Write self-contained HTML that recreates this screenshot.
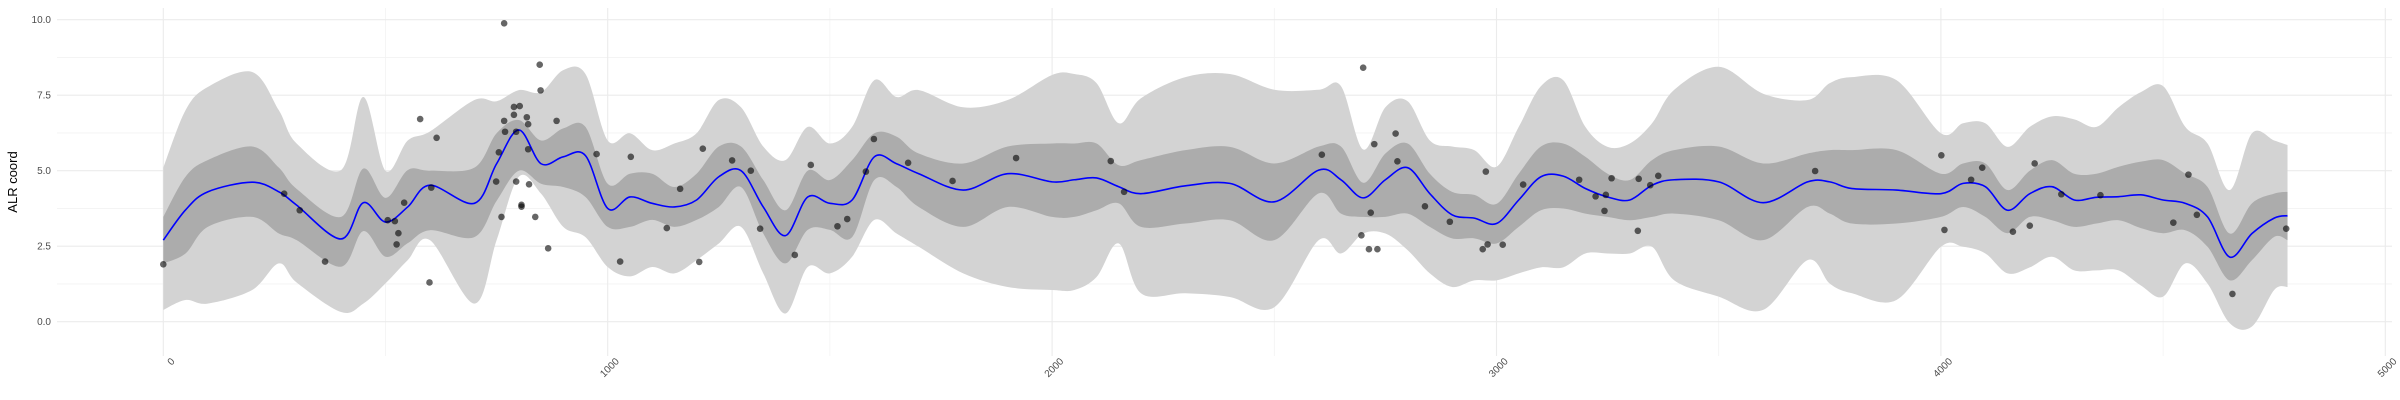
<!DOCTYPE html>
<html><head><meta charset="utf-8"><style>
html,body{margin:0;padding:0;background:#fff;}
svg{display:block;font-family:"Liberation Sans",sans-serif;}
</style></head><body>
<svg id="chart" width="2400" height="400" viewBox="0 0 2400 400" xmlns="http://www.w3.org/2000/svg">
<g id="grid"></g>
<g id="bands"></g>
<g id="pts"></g>
<g id="axes"></g>
<text x="0" y="0" transform="translate(17,182) rotate(-90)" text-anchor="middle" font-size="13" fill="#000">ALR coord</text>
</svg>
<script>
const xs=[0,50,100,200,260,300,400,450,500,550,600,700,750,800,850,900,950,1000,1050,1100,1150,1200,1250,1300,1350,1400,1450,1500,1550,1600,1650,1700,1800,1900,2000,2050,2100,2150,2200,2300,2400,2500,2600,2650,2700,2750,2800,2850,2900,2950,3000,3050,3100,3150,3200,3250,3300,3350,3400,3500,3600,3700,3750,3800,3900,4000,4050,4100,4150,4200,4250,4300,4350,4400,4450,4500,4550,4600,4650,4700,4750,4780];
const meanVals=[2.7,3.7,4.3,4.62,4.3,3.86,2.74,3.94,3.3,3.8,4.52,3.92,5.23,6.35,5.23,5.46,5.5,3.75,4.13,3.92,3.8,4.03,4.8,5.0,3.8,2.85,4.13,3.92,4.03,5.46,5.23,4.9,4.36,4.9,4.63,4.7,4.76,4.47,4.24,4.5,4.58,3.97,5.02,4.7,4.1,4.7,5.1,4.24,3.54,3.43,3.25,4.03,4.8,4.82,4.41,4.13,4.03,4.52,4.7,4.63,3.94,4.63,4.63,4.41,4.36,4.24,4.58,4.47,3.69,4.24,4.47,4.03,4.12,4.14,4.2,4.03,3.92,3.47,2.14,2.92,3.43,3.51];
const innerHi=[3.47,4.8,5.35,5.8,5.1,4.4,3.47,5.07,4.1,5.02,5.0,5.1,6.24,6.68,6.0,6.4,6.45,4.57,4.9,4.9,4.46,4.9,5.8,5.8,4.69,3.69,5.0,4.69,5.35,6.24,6.13,5.57,5.24,5.8,5.9,5.9,5.9,5.18,5.35,5.68,5.79,5.24,5.8,5.8,4.6,5.57,5.9,4.9,4.3,4.2,3.9,4.9,5.8,5.9,5.46,4.9,4.69,5.35,5.68,5.8,5.24,5.57,5.68,5.68,5.68,4.9,5.24,5.24,4.36,5.0,5.35,4.9,4.9,5.13,5.3,5.35,4.9,4.46,2.92,3.92,4.24,4.3];
const innerLo=[1.93,2.26,3.14,3.47,2.92,2.7,1.82,3.0,2.15,2.6,3.03,2.8,4.0,5.0,4.57,4.46,4.13,3.14,3.14,3.37,3.14,3.37,3.8,4.46,2.92,1.93,3.04,3.04,2.8,4.69,4.46,3.8,3.14,3.8,3.47,3.47,3.69,3.92,3.14,3.25,3.36,2.7,4.25,3.58,3.47,3.47,3.58,3.14,2.76,2.76,2.59,3.14,3.69,3.75,3.58,3.47,3.36,3.47,3.58,3.36,2.7,3.8,3.58,3.25,3.25,3.47,3.8,3.47,2.93,3.47,3.36,3.14,3.25,3.36,3.1,2.93,3.03,2.48,1.37,2.04,2.81,2.7];
const outerHi=[5.1,7.0,7.77,8.27,7.0,5.9,5.02,7.44,5.0,6.0,6.3,7.34,7.3,7.67,7.6,8.33,8.2,6.0,6.24,5.68,5.9,6.24,7.34,7.1,5.8,5.35,6.45,5.9,6.45,8.0,7.44,7.67,7.1,7.34,8.17,8.2,7.9,6.57,7.4,8.1,8.2,7.68,7.68,7.8,5.7,7.1,7.3,6.0,5.8,5.68,5.13,6.45,7.8,8.0,6.45,5.79,5.9,6.57,7.68,8.44,7.55,7.34,7.9,8.1,8.0,6.24,6.57,6.57,5.79,6.45,6.8,6.7,6.45,7.1,7.6,7.8,6.45,5.9,4.36,6.24,6.0,5.85];
const outerLo=[0.39,0.72,0.6,1.05,1.93,1.3,0.32,0.6,1.27,2.04,2.7,0.6,2.7,4.8,4.24,3.14,2.8,1.81,1.5,1.81,1.6,2.04,2.59,3.14,1.6,0.27,1.81,1.6,2.15,3.37,2.92,2.48,1.6,1.15,1.05,1.05,1.48,2.59,0.94,0.94,0.82,0.48,2.7,2.26,2.92,2.92,2.37,1.6,1.15,1.37,1.37,1.6,1.8,1.8,2.26,2.26,2.26,2.48,1.37,0.83,0.39,2.04,1.26,0.94,0.72,2.48,2.48,2.26,1.6,1.8,2.15,1.7,1.7,1.7,1.2,0.83,1.93,1.26,-0.05,-0.16,1.05,1.15];
const ptX=[0,272,307,364,505,521,529,525,542,578,615,603,599,767,749,755,761,767,769,789,789,802,794,794,806,806,818,821,821,823,837,847,849,866,885,975,1028,1052,1133,1163,1206,1214,1280,1322,1343,1421,1457,1517,1539,1581,1599,1676,1776,1919,2132,2162,2607,2700,2725,2717,2696,2713,2732,2773,2777,2839,2895,2976,2969,2980,3014,3060,3186,3223,3246,3243,3259,3318,3320,3346,3364,3717,4001,4008,4068,4093,4162,4200,4211,4271,4359,4523,4557,4576,4656,4777];
const ptY=[1.9,4.24,3.69,1.99,3.36,3.33,2.93,2.56,3.94,6.71,6.09,4.44,1.3,9.88,4.64,5.61,3.47,6.65,6.29,7.11,6.85,7.14,6.29,4.64,3.87,3.81,6.77,6.54,5.71,4.55,3.47,8.51,7.66,2.43,6.65,5.55,1.99,5.46,3.1,4.4,1.98,5.73,5.34,5.0,3.08,2.21,5.19,3.16,3.4,4.97,6.05,5.26,4.66,5.42,5.32,4.3,5.53,8.41,5.88,3.61,2.86,2.4,2.4,6.23,5.31,3.82,3.31,4.97,2.4,2.56,2.55,4.54,4.7,4.15,4.2,3.67,4.75,3.01,4.73,4.52,4.83,4.99,5.51,3.04,4.7,5.1,2.98,3.18,5.24,4.22,4.19,3.28,4.87,3.54,0.92,3.08];
const yTicks=[0,2.5,5,7.5,10];
const yTickLabels=["0.0","2.5","5.0","7.5","10.0"];
const xTicks=[0,1000,2000,3000,4000,5000];
const xTickLabels=["0","1000","2000","3000","4000","5000"];

const NS="http://www.w3.org/2000/svg";
const P={l:57,r:2392,t:8,b:356};
function sx(v){return 163.3+v*0.4444;}
function sy(v){return 321.7-v*30.2;}
function mk(tag,attrs,parent){const e=document.createElementNS(NS,tag);for(const k in attrs)e.setAttribute(k,attrs[k]);parent.appendChild(e);return e;}
function crPath(pts,start){
  let d=start?("M"+pts[0][0].toFixed(2)+","+pts[0][1].toFixed(2)):("L"+pts[0][0].toFixed(2)+","+pts[0][1].toFixed(2));
  for(let i=0;i<pts.length-1;i++){
    const p0=pts[Math.max(0,i-1)],p1=pts[i],p2=pts[i+1],p3=pts[Math.min(pts.length-1,i+2)];
    const c1x=p1[0]+(p2[0]-p0[0])/6,c1y=p1[1]+(p2[1]-p0[1])/6;
    const c2x=p2[0]-(p3[0]-p1[0])/6,c2y=p2[1]-(p3[1]-p1[1])/6;
    d+="C"+c1x.toFixed(2)+","+c1y.toFixed(2)+" "+c2x.toFixed(2)+","+c2y.toFixed(2)+" "+p2[0].toFixed(2)+","+p2[1].toFixed(2);
  }
  return d;
}
const grid=document.getElementById('grid');
// minor
for(let v=1.25;v<=10;v+=2.5){const l=mk('line',{x1:P.l,x2:P.r,y1:sy(v),y2:sy(v),stroke:'#f3f3f3','stroke-width':0.8},grid);

}
for(let v=500;v<=4500;v+=1000){const l=mk('line',{x1:sx(v),x2:sx(v),y1:P.t,y2:P.b,stroke:'#f3f3f3','stroke-width':0.8},grid);

}
yTicks.forEach(v=>{const l=mk('line',{x1:P.l,x2:P.r,y1:sy(v),y2:sy(v),stroke:'#ebebeb','stroke-width':1.1},grid);

});
xTicks.forEach(v=>{const l=mk('line',{x1:sx(v),x2:sx(v),y1:P.t,y2:P.b,stroke:'#ebebeb','stroke-width':1.1},grid);

});

function band(hi,lo,fill,name){
  const top=xs.map((x,i)=>[sx(x),sy(hi[i])]);
  const bot=xs.map((x,i)=>[sx(x),sy(lo[i])]).reverse();
  const d=crPath(top,true)+crPath(bot,false)+"Z";
  const p=mk('path',{d:d,fill:fill},document.getElementById('bands'));
  
  
}
band(outerHi,outerLo,'#d3d3d3','outer-interval-band');
band(innerHi,innerLo,'#acacac','inner-interval-band');
const line=mk('path',{d:crPath(xs.map((x,i)=>[sx(x),sy(meanVals[i])]),true),fill:'none',stroke:'#0000ff','stroke-width':1.6},document.getElementById('bands'));



const pts=document.getElementById('pts');
ptX.forEach((x,i)=>{const c=mk('circle',{cx:sx(x),cy:sy(ptY[i]),r:3.3,fill:'#000','fill-opacity':0.6},pts);

});

const axes=document.getElementById('axes');
yTicks.forEach((v,i)=>{const t=mk('text',{x:51,y:sy(v)+3.5,'text-anchor':'end','font-size':10,fill:'#4d4d4d'},axes);t.textContent=yTickLabels[i];

});
xTicks.forEach((v,i)=>{const px=sx(v)+12,py=362;const t=mk('text',{x:0,y:0,transform:'translate('+px+','+py+') rotate(-45)','text-anchor':'end','font-size':10,fill:'#4d4d4d'},axes);t.textContent=xTickLabels[i];

});
</script>
</body></html>
